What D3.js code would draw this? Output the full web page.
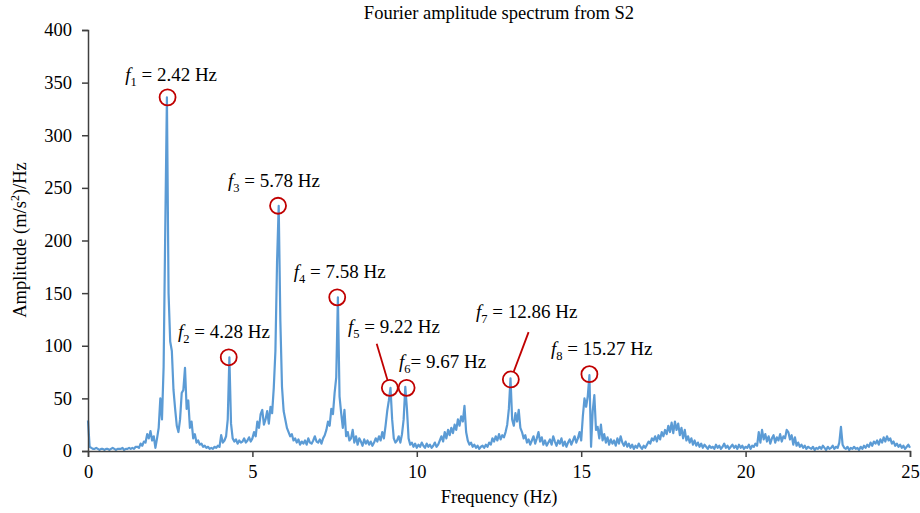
<!DOCTYPE html>
<html>
<head>
<meta charset="utf-8">
<script src="https://cdn.jsdelivr.net/npm/d3@7"></script>
<style>
    body { margin: 0; background: #fff; }
    text { font-family: "Liberation Serif", "Times New Roman", serif; fill: #000; }
</style>
</head>
<body>
<script>
const svgWidth = 920;
const svgHeight = 513;
const margin = {top: 30, right: 10, bottom: 62, left: 88};

// spectrum, sampled every 0.05 Hz from 0 to 25 Hz (one row per Hz)
const freqStep = 0.05;
const amplitude = [
    29, 4, 3, 2, 2, 3, 2, 1, 2, 2, 1, 2, 2, 1, 2, 3, 2, 1, 2, 2,
    2, 3, 1, 2, 2, 3, 2, 3, 2, 4, 4, 3, 7, 5, 9, 8, 16, 12, 19, 10,
    14, 3, 12, 22, 50, 30, 80, 212, 336, 150, 104, 95, 58, 40, 24, 18, 30, 55, 58, 79,
    40, 48, 22, 28, 12, 16, 8, 10, 6, 7, 4, 5, 3, 4, 2, 3, 2, 4, 3, 5,
    4, 15, 8, 10, 14, 30, 89, 26, 12, 9, 11, 7, 10, 8, 9, 12, 8, 10, 13, 9,
    12, 18, 14, 28, 22, 35, 39, 25, 30, 38, 26, 42, 36, 60, 95, 180, 233, 124, 61, 38,
    30, 22, 18, 14, 16, 10, 12, 8, 11, 6, 9, 7, 10, 6, 12, 8, 7, 10, 14, 9,
    8, 11, 7, 12, 15, 20, 28, 24, 40, 35, 55, 70, 146, 52, 36, 22, 39, 14, 18, 10,
    12, 20, 8, 14, 6, 12, 9, 5, 11, 7, 10, 6, 9, 5, 8, 12, 9, 14, 10, 18,
    12, 24, 38, 48, 60, 30, 12, 8, 10, 14, 8, 16, 30, 61, 40, 12, 6, 8, 4, 7,
    3, 6, 4, 8, 5, 3, 7, 4, 6, 3, 5, 8, 4, 6, 10, 14, 9, 18, 12, 20,
    15, 22, 17, 25, 20, 30, 24, 33, 28, 43, 18, 10, 6, 8, 4, 6, 3, 5, 2, 4,
    5, 3, 6, 4, 8, 6, 12, 9, 14, 10, 16, 11, 15, 13, 18, 25, 40, 69, 30, 24,
    36, 28, 39, 22, 18, 12, 15, 8, 11, 6, 10, 14, 7, 12, 18, 9, 13, 6, 10, 5,
    8, 11, 6, 14, 9, 5, 10, 7, 12, 5, 9, 4, 8, 11, 6, 10, 14, 8, 12, 18,
    10, 33, 50, 42, 52, 72, 4, 38, 53, 20, 23, 12, 25, 10, 16, 8, 13, 6, 11, 7,
    10, 5, 12, 7, 14, 8, 5, 9, 4, 7, 3, 6, 2, 5, 3, 7, 4, 2, 5, 3,
    6, 9, 7, 12, 10, 14, 9, 15, 11, 18, 14, 20, 16, 24, 18, 27, 17, 28, 20, 26,
    15, 22, 12, 20, 10, 14, 8, 12, 6, 10, 5, 8, 4, 7, 3, 6, 4, 2, 5, 3,
    4, 2, 6, 3, 5, 2, 4, 7, 3, 5, 2, 4, 6, 3, 5, 2, 6, 3, 5, 2,
    4, 3, 6, 2, 5, 4, 7, 5, 18, 8, 20, 11, 16, 9, 14, 7, 12, 15, 8, 13,
    10, 16, 9, 14, 12, 20, 18, 11, 15, 6, 13, 5, 8, 4, 6, 3, 5, 2, 4, 3,
    2, 4, 1, 3, 2, 4, 2, 5, 3, 1, 4, 2, 3, 5, 2, 4, 3, 8, 23, 6,
    3, 2, 4, 1, 3, 2, 4, 2, 3, 1, 4, 2, 5, 3, 6, 4, 8, 5, 9, 7,
    10, 6, 11, 8, 13, 9, 14, 10, 12, 7, 9, 5, 7, 4, 6, 3, 5, 2, 4, 6,
    3
];

// marked modes
const modeNames = ["1", "2", "3", "4", "5", "6", "7", "8"];
const modeFreqs = [2.42, 4.28, 5.78, 7.58, 9.22, 9.67, 12.86, 15.27];
const circleFreqs = [2.42, 4.28, 5.78, 7.58, 9.18, 9.69, 12.86, 15.25];
const circleAmps = [336, 89, 233, 146, 60, 60, 68, 73];
const labelFreqs = [1.13, 2.74, 4.26, 6.26, 7.91, 9.46, 11.80, 14.08];
const labelAmps = [352, 107, 251, 164, 112, 79, 126, 91];
const leaderFrom = {4: [8.78, 102], 6: [13.40, 113]};

const xTicks = [0, 5, 10, 15, 20, 25];
const yTicks = [0, 50, 100, 150, 200, 250, 300, 350, 400];

const data = amplitude.map((a, i) => ({f: i * freqStep, a: a}));

const svg = d3.select("body").append("svg").attr("width", svgWidth).attr("height", svgHeight);

const x = d3.scaleLinear().domain([0, 25]).range([margin.left, svgWidth - margin.right]);
const y = d3.scaleLinear().domain([0, 400]).range([svgHeight - margin.bottom, margin.top]);

// title
svg.append("text")
    .attr("x", 499)
    .attr("y", 19)
    .attr("text-anchor", "middle")
    .style("font-size", "18.5px")
    .text("Fourier amplitude spectrum from S2");

// spectrum line
svg.append("path")
    .datum(data)
    .attr("fill", "none")
    .attr("stroke", "#5b9bd5")
    .attr("stroke-width", 2.2)
    .attr("stroke-linejoin", "round")
    .attr("d", d3.line().x(d => x(d.f)).y(d => y(d.a)));

// axes
const xAxis = svg.append("g")
    .attr("transform", "translate(0," + y(0) + ")")
    .call(d3.axisBottom(x).tickValues(xTicks).tickSize(6).tickPadding(8).tickFormat(d3.format("d")));
const yAxis = svg.append("g")
    .attr("transform", "translate(" + x(0) + ",0)")
    .call(d3.axisLeft(y).tickValues(yTicks).tickSize(6).tickPadding(10).tickFormat(d3.format("d")));

[xAxis, yAxis].forEach(function (g) {
    g.select(".domain").attr("stroke", "#404040").attr("stroke-width", 1.5);
    g.selectAll(".tick line").attr("stroke", "#404040").attr("stroke-width", 1.5);
    g.selectAll(".tick text")
        .style("font-family", "'Liberation Serif', 'Times New Roman', serif")
        .style("font-size", "18.5px")
        .attr("fill", "#000");
});

// axis titles
svg.append("text")
    .attr("x", 499)
    .attr("y", 503)
    .attr("text-anchor", "middle")
    .style("font-size", "18.5px")
    .text("Frequency (Hz)");

const yTitle = svg.append("text")
    .attr("transform", "translate(26,240) rotate(-90)")
    .attr("text-anchor", "middle")
    .style("font-size", "18.5px");
yTitle.append("tspan").text("Amplitude (m/s");
yTitle.append("tspan").attr("dy", -7).style("font-size", "12px").text("2");
yTitle.append("tspan").attr("dy", 7).text(")/Hz");

// circles round the picked peaks
const r = 8;
svg.selectAll("circle.mode")
    .data(circleFreqs)
    .join("circle")
    .attr("class", "mode")
    .attr("cx", d => x(d))
    .attr("cy", (d, i) => y(circleAmps[i]))
    .attr("r", r)
    .attr("fill", "none")
    .attr("stroke", "#c00000")
    .attr("stroke-width", 1.8);

// leader lines for f5 and f7
Object.keys(leaderFrom).forEach(function (k) {
    const i = +k;
    const x0 = x(leaderFrom[k][0]), y0 = y(leaderFrom[k][1]);
    const cx = x(circleFreqs[i]), cy = y(circleAmps[i]);
    const len = Math.hypot(cx - x0, cy - y0);
    svg.append("line")
        .attr("x1", x0)
        .attr("y1", y0)
        .attr("x2", cx - (cx - x0) * r / len)
        .attr("y2", cy - (cy - y0) * r / len)
        .attr("stroke", "#c00000")
        .attr("stroke-width", 1.8);
});

// labels  f_n = ... Hz
modeNames.forEach(function (n, i) {
    const t = svg.append("text")
        .attr("x", x(labelFreqs[i]))
        .attr("y", y(labelAmps[i]))
        .style("font-size", "19px");
    t.append("tspan").style("font-style", "italic").text("f");
    t.append("tspan").attr("dy", 5).style("font-size", "12.5px").text(n);
    t.append("tspan").attr("dy", -5).text((i === 5 ? "= " : " = ") + modeFreqs[i].toFixed(2) + " Hz");
});
</script>
</body>
</html>
